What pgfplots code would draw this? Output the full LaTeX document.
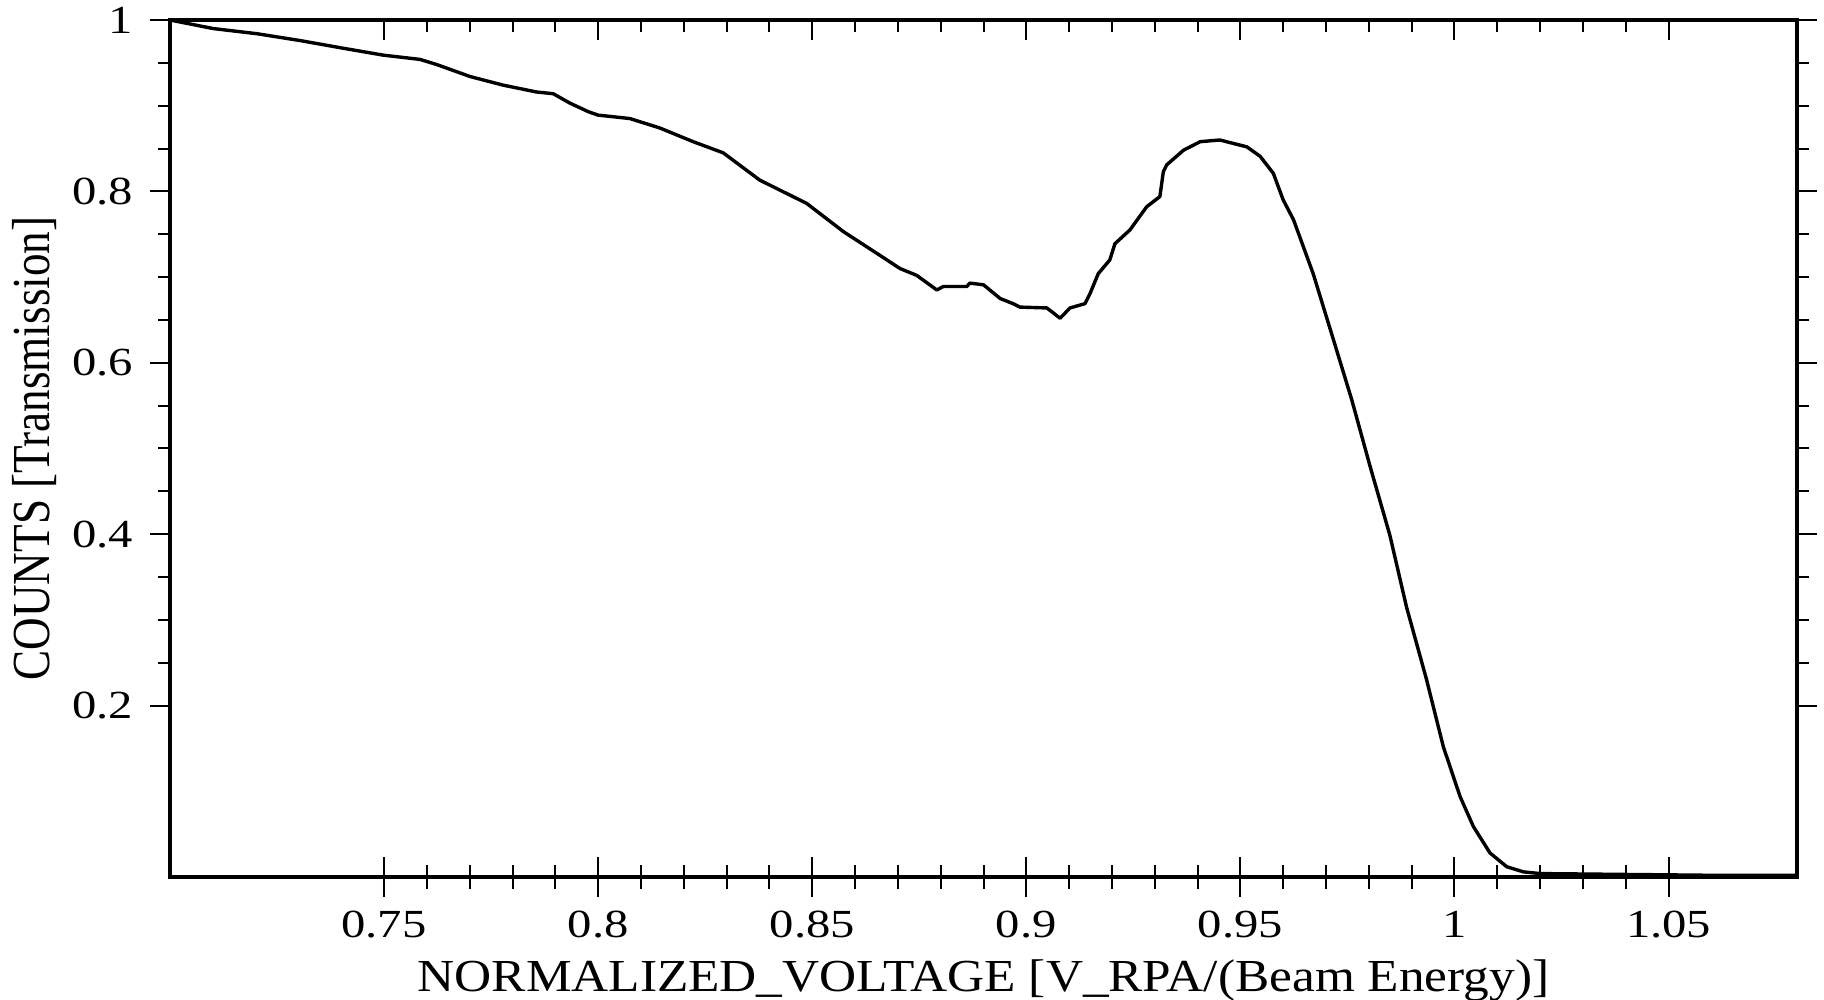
\documentclass[border=0pt]{standalone}
\usepackage{fontspec}
\setmainfont{Liberation Serif}
\usepackage{pgfplots}
\pgfplotsset{compat=1.18}
\begin{document}
\begin{tikzpicture}
\pgfplotsset{
  common/.style={
    scale only axis, width=406.75bp, height=214.25bp,
    xmin=0.7, xmax=1.08, ymin=0, ymax=1,
    xtick={0.75,0.8,0.85,0.9,0.95,1,1.05},
    ytick={0.2,0.4,0.6,0.8,1},
    minor x tick num=4, minor y tick num=3,
    major tick length=5bp, minor tick length=2.9bp,
    every tick/.style={black, line width=0.5bp},
    every minor tick/.style={black, line width=0.5bp},
    axis line style={line width=1bp},
    /pgf/number format/assume math mode=true,
    tick label style={font=\fontsize{10}{12}\selectfont, xscale=1.22},
  }
}
\begin{axis}[common, name=A,
  tick align=outside,
  xtick pos=bottom, ytick pos=both,
  xticklabel pos=bottom, yticklabel pos=left,
  xlabel={\fontsize{11.5}{13}\selectfont\scalebox{1.12}[1]{NORMALIZED\_VOLTAGE [V\_RPA/(Beam Energy)]}},
  xlabel style={at={(axis description cs:0.5,0)}, anchor=base, yshift=-28.5bp},
  ylabel={\fontsize{11}{13}\selectfont\scalebox{1.03}[1.22]{COUNTS [Transmission]}},
  ylabel style={at={(axis description cs:0,0.5)}, anchor=base, yshift=30bp},
]
\addplot[black, line width=0.85bp, line join=round] coordinates {
(0.7000,1.000) (0.7101,0.990) (0.7203,0.984) (0.7304,0.976) (0.7405,0.967)
(0.7498,0.959) (0.7584,0.954) (0.7623,0.948) (0.7701,0.934) (0.7778,0.924)
(0.7856,0.916) (0.7895,0.914) (0.7934,0.903) (0.7977,0.893) (0.8000,0.889)
(0.8074,0.885) (0.8144,0.874) (0.8222,0.858) (0.8292,0.845) (0.8378,0.813)
(0.8487,0.786) (0.8573,0.753) (0.8650,0.728) (0.8705,0.710) (0.8744,0.702)
(0.8791,0.685) (0.8806,0.689) (0.8861,0.689) (0.8868,0.693) (0.8900,0.691)
(0.8939,0.675) (0.8969,0.669) (0.8985,0.665) (0.9048,0.664) (0.9079,0.652)
(0.9102,0.664) (0.9137,0.669) (0.9149,0.681) (0.9168,0.704) (0.9195,0.720)
(0.9207,0.739) (0.9242,0.755) (0.9281,0.782) (0.9312,0.794) (0.9320,0.823)
(0.9328,0.831) (0.9367,0.848) (0.9406,0.858) (0.9452,0.860) (0.9483,0.856)
(0.9515,0.852) (0.9546,0.841) (0.9577,0.821) (0.9600,0.790) (0.9624,0.767)
(0.9670,0.704) (0.9713,0.634) (0.9760,0.557) (0.9803,0.479) (0.9849,0.399)
(0.9888,0.315) (0.9935,0.230) (0.9974,0.152) (1.0013,0.094) (1.0044,0.059)
(1.0083,0.028) (1.0122,0.012) (1.0161,0.006) (1.0200,0.004) (1.0400,0.003)
(1.0600,0.002) (1.0800,0.002)
};
\end{axis}
\begin{axis}[common, at={(A.south west)}, anchor=south west,
  tick align=inside, xtick pos=both, ytick=\empty,
  xticklabels={},
]
\end{axis}
\pgfresetboundingbox
\path ([shift={(-42.5bp,-30.75bp)}]A.south west) rectangle ([shift={(6.75bp,5bp)}]A.north east);
\end{tikzpicture}
\end{document}
